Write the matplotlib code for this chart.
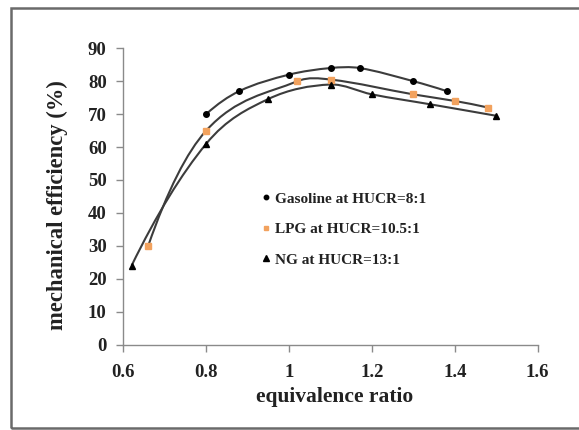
import numpy as np
import matplotlib
matplotlib.use("Agg")
import matplotlib.pyplot as plt
from matplotlib.patches import Rectangle, PathPatch
from matplotlib.path import Path

plt.rcParams['font.family'] = ['Liberation Serif', 'DejaVu Serif']
plt.rcParams['font.weight'] = 'bold'

# data
gas_x = [0.80, 0.88, 1.00, 1.10, 1.17, 1.30, 1.38]
gas_y = [70.0, 77.0, 82.0, 84.0, 84.0, 80.0, 77.0]
lpg_x = [0.66, 0.80, 1.02, 1.10, 1.30, 1.40, 1.48]
lpg_y = [30.0, 65.0, 80.0, 80.5, 76.0, 74.0, 72.0]
ng_x = [0.62, 0.80, 0.95, 1.10, 1.20, 1.34, 1.50]
ng_y = [24.0, 61.0, 74.6, 79.0, 76.0, 73.0, 69.5]
labels = ["Gasoline at HUCR=8:1", "LPG at HUCR=10.5:1", "NG at HUCR=13:1"]
xticks = [0.6, 0.8, 1.0, 1.2, 1.4, 1.6]
xticklabels = ["0.6", "0.8", "1", "1.2", "1.4", "1.6"]
yticks = [0, 10, 20, 30, 40, 50, 60, 70, 80, 90]

fig = plt.figure(figsize=(5.79, 4.30), dpi=100)
ax = fig.add_axes([0.213, 0.1986, 0.7157, 0.6891])


def smooth_path(xs, ys):
    """Smoothed line through the points: cubic Hermite segments as Bezier curves."""
    x = np.asarray(xs, float)
    y = np.asarray(ys, float)
    n = len(x)
    m = np.zeros(n)
    for i in range(1, n - 1):
        m[i] = (y[i + 1] - y[i - 1]) / (x[i + 1] - x[i - 1])
    m[0] = 2 * (y[1] - y[0]) / (x[1] - x[0]) - m[1]
    m[-1] = 2 * (y[-1] - y[-2]) / (x[-1] - x[-2]) - m[-2]
    verts = [(x[0], y[0])]
    codes = [Path.MOVETO]
    for i in range(n - 1):
        h = x[i + 1] - x[i]
        verts += [(x[i] + h / 3, y[i] + m[i] * h / 3),
                  (x[i + 1] - h / 3, y[i + 1] - m[i + 1] * h / 3),
                  (x[i + 1], y[i + 1])]
        codes += [Path.CURVE4] * 3
    return Path(verts, codes)


line_col = '#3c3c3c'
for xs, ys in [(gas_x, gas_y), (lpg_x, lpg_y), (ng_x, ng_y)]:
    ax.add_patch(PathPatch(smooth_path(xs, ys), facecolor='none', edgecolor=line_col,
                           lw=1.5, zorder=2, transform=ax.transData))

ax.plot(gas_x, gas_y, 'o', color='black', ms=4, ls='none', label=labels[0], zorder=3)
ax.plot(lpg_x, lpg_y, 's', color='#f2a25e', ms=4, ls='none', label=labels[1], zorder=3)
ax.plot(ng_x, ng_y, '^', color='black', ms=5, ls='none', label=labels[2], zorder=3)

ax.set_xlim(0.6, 1.6)
ax.set_ylim(0, 90)
ax.set_xticks(xticks)
ax.set_xticklabels(xticklabels)
ax.set_yticks(yticks)
for s in ['top', 'right']:
    ax.spines[s].set_visible(False)
for s in ['left', 'bottom']:
    ax.spines[s].set_color('#8a8a8a')
    ax.spines[s].set_linewidth(1.0)
ax.tick_params(direction='out', length=5, width=1.0, color='#8a8a8a', labelsize=13.5)
ax.tick_params(axis='x', pad=9)
ax.tick_params(axis='y', pad=7)
for lab in ax.get_xticklabels() + ax.get_yticklabels():
    lab.set_fontweight('bold')
    lab.set_color('#222222')

ax.set_xlabel('equivalence ratio', fontsize=15.5, fontweight='bold', color='#222222')
ax.set_ylabel('mechanical efficiency (%)', fontsize=16.3, fontweight='bold', color='#222222')
ax.xaxis.set_label_coords(0.5097, -0.143)
ax.yaxis.set_label_coords(-0.1335, 0.471)

leg = ax.legend(loc='upper left', bbox_to_anchor=(0.303, 0.562), frameon=False,
                prop={'family': 'Liberation Serif', 'weight': 'bold', 'size': 11},
                handlelength=0.5, handletextpad=0.3, labelspacing=1.1, markerscale=0.8)
for t in leg.get_texts():
    t.set_color('#222222')

fig.patches.append(Rectangle((11/579, 2/430), 1.2, (428-8)/430, transform=fig.transFigure,
                             fill=False, edgecolor='#6a6a6a', lw=1.8, figure=fig))

fig.savefig('out.png', dpi=100)
